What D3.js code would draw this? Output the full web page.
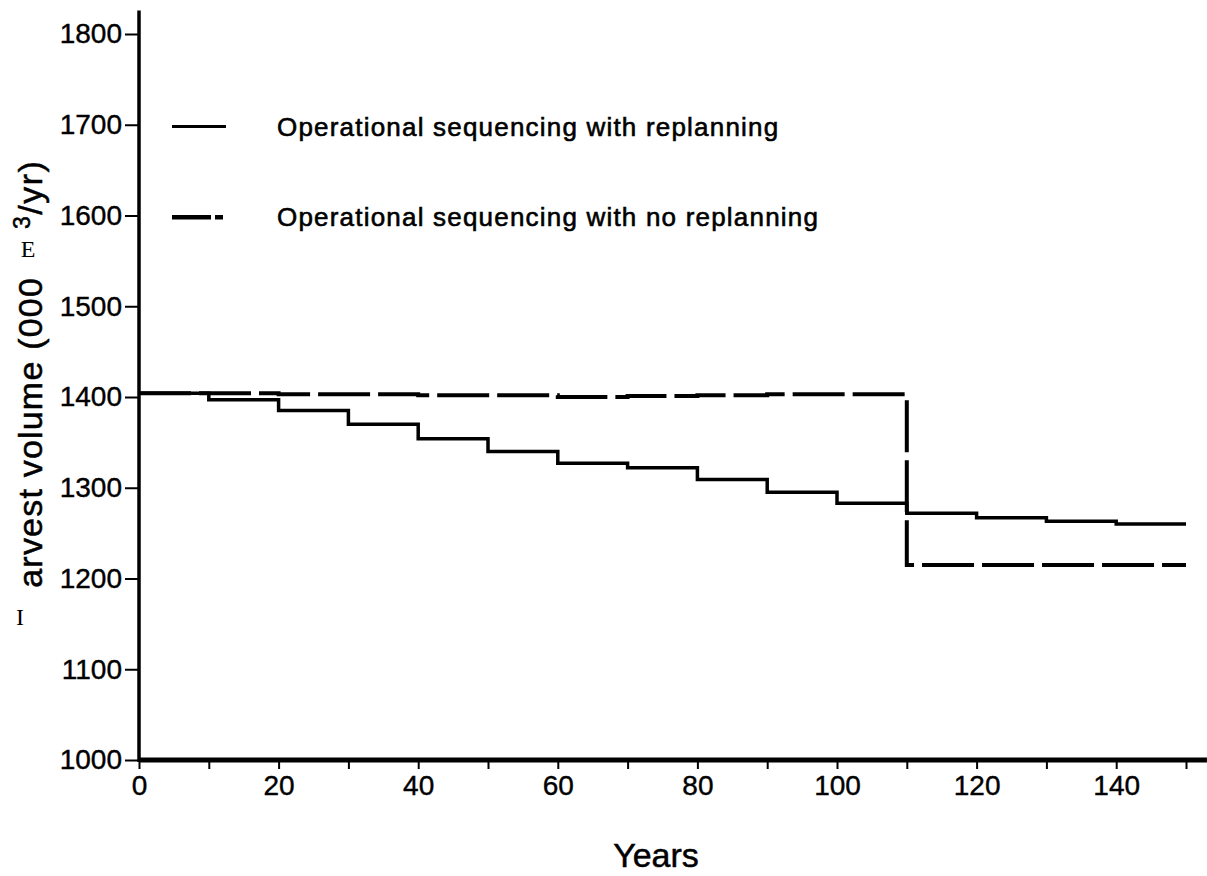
<!DOCTYPE html>
<meta charset="utf-8">
<style>
    body { margin: 0; background: #fff; }
    svg { display: block; }
    .tick text { font-family: "Liberation Sans", Arial, sans-serif; font-size: 28px; fill: #000; stroke: #000; stroke-width: 0.4px; }
    .tick line { stroke: #000; stroke-width: 2px; }
    .lbl { font-family: "Liberation Sans", Arial, sans-serif; fill: #000; }
</style>
<svg width="1207" height="876"></svg>
<script src="https://d3js.org/d3.v7.min.js"></script>
<script>

    // period start years (each step lasts 10 years)
    var years = [0, 10, 20, 30, 40, 50, 60, 70, 80, 90, 100, 110, 120, 130, 140, 150];

    // harvest volume for each 10-year period, 000 m3/yr
    var replanning = [1404, 1397, 1385, 1370, 1354, 1340, 1327, 1322, 1309, 1295, 1283, 1272, 1267, 1263, 1260];
    var noReplanning = [1404, 1404, 1403, 1403, 1402, 1402, 1400, 1401, 1402, 1403, 1403, 1215, 1215, 1215, 1215];

    var seriesNames = ["Operational sequencing with replanning", "Operational sequencing with no replanning"];
    var yTicks = [1000, 1100, 1200, 1300, 1400, 1500, 1600, 1700, 1800];
    var xTicks = [0, 10, 20, 30, 40, 50, 60, 70, 80, 90, 100, 110, 120, 130, 140, 150];

    var svg = d3.select("svg");

    var x = d3.scaleLinear().domain([0, 150]).range([139, 1186]);
    var y = d3.scaleLinear().domain([1000, 1800]).range([760, 34]);

    // y axis
    var yAxis = d3.axisLeft(y).tickValues(yTicks).tickSize(14).tickPadding(3).tickSizeOuter(0)
        .tickFormat(d3.format("d"));
    svg.append("g")
        .attr("transform", "translate(" + x(0) + ",0)")
        .call(yAxis)
        .call(function (g) { g.select(".domain").remove(); });

    svg.append("line")
        .attr("x1", x(0)).attr("x2", x(0))
        .attr("y1", y(1000) + 2).attr("y2", y(1826))
        .attr("stroke", "#000").attr("stroke-width", 3.5);

    // x axis
    var xAxis = d3.axisBottom(x).tickValues(xTicks).tickSize(9).tickPadding(6).tickSizeOuter(0)
        .tickFormat(function (d) { return (d % 20 === 0 && d < 150) ? d : ""; });
    svg.append("g")
        .attr("transform", "translate(0," + y(1000) + ")")
        .call(xAxis)
        .call(function (g) { g.select(".domain").remove(); });

    svg.append("line")
        .attr("x1", x(0)).attr("x2", x(153))
        .attr("y1", y(1000)).attr("y2", y(1000))
        .attr("stroke", "#000").attr("stroke-width", 5);

    // step series
    function stepData(vals) {
        var pts = vals.map(function (v, i) { return [years[i], v]; });
        pts.push([years[vals.length], vals[vals.length - 1]]);
        return pts;
    }

    var line = d3.line()
        .x(function (d) { return x(d[0]); })
        .y(function (d) { return y(d[1]); })
        .curve(d3.curveStepAfter);

    svg.append("path")
        .datum(stepData(replanning))
        .attr("d", line)
        .attr("fill", "none")
        .attr("stroke", "#000")
        .attr("stroke-width", 3.5);

    svg.append("path")
        .datum(stepData(noReplanning))
        .attr("d", line)
        .attr("fill", "none")
        .attr("stroke", "#000")
        .attr("stroke-width", 4)
        .attr("stroke-dasharray", "52,8");

    // legend
    var legend = svg.append("g");
    legend.append("line")
        .attr("x1", 172).attr("x2", 226).attr("y1", y(1698)).attr("y2", y(1698))
        .attr("stroke", "#000").attr("stroke-width", 3);
    legend.append("line")
        .attr("x1", 172).attr("x2", 223).attr("y1", y(1598)).attr("y2", y(1598))
        .attr("stroke", "#000").attr("stroke-width", 4.5)
        .attr("stroke-dasharray", "39,4,8,100");

    legend.selectAll("text.leg")
        .data(seriesNames)
        .enter().append("text")
        .attr("class", "lbl leg")
        .attr("x", 277)
        .attr("y", function (d, i) { return y(1698 - i * 100) + 9; })
        .style("font-size", "26px")
        .style("letter-spacing", "1.2px")
        .attr("stroke", "#000").attr("stroke-width", 0.6)
        .text(function (d) { return d; });

    // axis titles
    svg.append("text")
        .attr("class", "lbl")
        .attr("x", 656).attr("y", 867)
        .attr("text-anchor", "middle")
        .style("font-size", "34px")
        .attr("stroke", "#000").attr("stroke-width", 0.5)
        .text("Years");

    svg.append("text")
        .attr("class", "lbl")
        .attr("transform", "translate(42,277) rotate(-90)")
        .attr("text-anchor", "end")
        .style("font-size", "34px")
        .style("letter-spacing", "1.2px")
        .attr("stroke", "#000").attr("stroke-width", 0.5)
        .text("arvest volume (000");

    var unit = svg.append("text")
        .attr("class", "lbl")
        .attr("transform", "translate(42,229) rotate(-90)")
        .style("font-size", "34px")
        .style("letter-spacing", "1.5px")
        .attr("stroke", "#000").attr("stroke-width", 0.5);
    unit.append("tspan").attr("dy", -12).style("font-size", "23px").text("3");
    unit.append("tspan").attr("dy", 12).text("/yr)");

    svg.append("text")
        .attr("x", 28).attr("y", 257)
        .attr("text-anchor", "middle")
        .style("font-family", "'Liberation Serif', 'Times New Roman', serif")
        .style("font-size", "24px")
        .text("E");

    svg.append("text")
        .attr("x", 20).attr("y", 625)
        .attr("text-anchor", "middle")
        .style("font-family", "'Liberation Serif', 'Times New Roman', serif")
        .style("font-size", "24px")
        .text("I");

</script>
